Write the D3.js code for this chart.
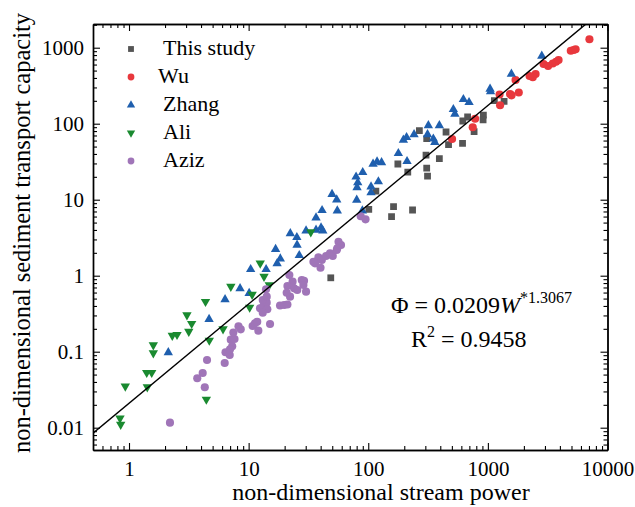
<!DOCTYPE html>
<html>
<head>
<meta charset="utf-8">
<script src="https://cdn.jsdelivr.net/npm/d3@7"></script>
<style>
  body { margin: 0; background: #fff; }
  svg text { font-family: "Liberation Serif", "Times New Roman", serif; fill: #000; }
</style>
</head>
<body>
<div id="chart"></div>
<script>
// Scatter of transport capacity vs stream power, log-log, with power-law fit

// ---- data (W = stream power, Phi = transport capacity) ----
const thisStudyW   = [1133, 1366, 917, 912, 767, 677, 617, 447, 267.5, 308, 469, 614, 304, 393, 176.8, 308, 313, 214, 115.8, 162.7, 234.6, 156.6, 101, 48.6];
const thisStudyPhi = [200.7, 197, 130, 112, 78.5, 122.5, 108.5, 77.8, 80.9, 63.5, 53.2, 55.2, 38.5, 34.6, 29.5, 26.1, 20.4, 23.0, 13.0, 8.09, 7.32, 5.97, 7.48, 0.938];

const wuW   = [7063, 4933, 5208, 5412, 2922, 3488, 3717, 3900, 2505, 2374, 2232, 1704, 1533, 1813, 1578, 1252, 1265, 782, 747, 502, 3187];
const wuPhi = [1290, 913, 933, 953, 610, 620, 654, 689, 451, 408, 424, 376, 246, 257, 236, 242, 175, 116, 89.7, 63, 574];

const zhangW   = [2823, 1572, 1043, 1053, 624, 696, 514.6, 530, 318, 393, 241.5, 209, 196.6, 313, 350, 360, 178.5, 211, 109.7, 118.5, 129.2, 89.9, 79.1, 81.7, 80.6, 121.5, 105.5, 105.5, 80.1, 49.8, 54.5, 55.1, 89.3, 41.1, 36.6, 22.3, 25.3, 30.2, 36.6, 40.3, 41.7, 25.4, 26.5, 16.8, 18.4, 17.3, 10.4, 14.0, 8.48, 10.1, 6.35, 4.67, 2.13];
const zhangPhi = [778, 451, 286, 265, 209.4, 191, 154.7, 134.2, 94.7, 94.7, 72.1, 66.2, 61, 72.1, 63.3, 57.1, 40.8, 32.0, 29.5, 31.6, 30.9, 22.9, 20.0, 16.8, 14.5, 17.3, 14.8, 12.4, 9.9, 11.8, 10.0, 7.17, 7.17, 7.25, 5.80, 3.59, 3.20, 3.91, 3.99, 4.28, 3.91, 2.54, 1.85, 2.23, 1.67, 1.45, 1.21, 1.21, 0.679, 0.587, 0.486, 0.267, 0.0976];

const aliW   = [33.1, 12.5, 13.45, 14.87, 7.10, 10.7, 10.2, 4.36, 3.05, 3.34, 3.16, 2.30, 2.52, 1.597, 1.597, 1.406, 1.548, 0.931, 1.422, 4.69, 6.11, 4.43, 0.841, 0.852];
const aliPhi = [3.76, 1.456, 0.976, 0.754, 0.721, 0.566, 0.382, 0.455, 0.304, 0.2335, 0.1845, 0.163, 0.1675, 0.1225, 0.0962, 0.053, 0.053, 0.0351, 0.0343, 0.141, 0.199, 0.0236, 0.0133, 0.0110];

const azizW   = [2.20, 4.49, 4.13, 3.72, 4.30, 6.31, 6.41, 6.95, 7.09, 7.62, 7.29, 6.99, 7.45, 8.23, 8.59, 10.8, 11.3, 11.8, 12.05, 12.45, 13.27, 14.17, 14.33, 15.1, 18.3, 19.8, 21.1, 13.12, 13.98, 14.17, 13.12, 21.9, 23.3, 21.1, 23.97, 27.8, 29.05, 25.5, 22.2, 30.2, 28.7, 38.3, 40.9, 44.4, 47.9, 50.5, 54.5, 35.9, 39.9, 34.8, 56.4, 59.2, 55.1, 86.5, 94.9, 20.8];
const azizPhi = [0.01164, 0.0778, 0.0525, 0.0447, 0.034, 0.071, 0.0985, 0.0905, 0.1439, 0.147, 0.1178, 0.1076, 0.179, 0.216, 0.197, 0.218, 0.2366, 0.248, 0.189, 0.3724, 0.399, 0.4416, 0.3614, 0.2314, 0.4055, 0.4117, 0.418, 0.479, 0.662, 0.530, 0.326, 1.02, 0.834, 0.732, 0.682, 0.878, 0.859, 0.648, 0.530, 0.616, 0.755, 1.746, 1.61, 1.816, 1.97, 1.816, 2.18, 1.455, 1.274, 1.528, 2.80, 2.535, 2.294, 6.05, 5.52, 0.597];

const seriesNames = ['This study', 'Wu', 'Zhang', 'Ali', 'Aziz'];

// fit: Phi = a * W^b
const fitA = 0.0209;
const fitB = 1.3067;

const xTicks = [1, 10, 100, 1000, 10000];
const xTickLabels = ['1', '10', '100', '1000', '10000'];
const yTicks = [0.01, 0.1, 1, 10, 100, 1000];
const yTickLabels = ['0.01', '0.1', '1', '10', '100', '1000'];

// ---- layout ----
const W = 635, H = 507;
const margin = { top: 24, right: 27.5, bottom: 57, left: 93 };
const width = W - margin.left - margin.right;
const height = H - margin.top - margin.bottom;

const svg = d3.select('#chart').append('svg')
    .attr('width', W)
    .attr('height', H);

const g = svg.append('g')
    .attr('transform', `translate(${margin.left},${margin.top})`);

const xScale = d3.scaleLog().domain([0.5, 10000]).range([0, width]);
const yScale = d3.scaleLog().domain([0.005088, 2050.5]).range([height, 0]);

// minor ticks 2..9 of every decade inside the domain
function minorTicks(scale) {
    const [lo, hi] = scale.domain();
    const out = [];
    for (let e = -3; e <= 4; e++) {
        for (let m = 2; m <= 9; m++) {
            const v = m * Math.pow(10, e);
            if (v > lo * 1.001 && v < hi * 0.999) out.push(v);
        }
    }
    return out;
}
const xMinor = minorTicks(xScale);
const yMinor = minorTicks(yScale);

// styles per series
const styles = {
    'This study': { color: '#555555', shape: d3.symbolSquare, size: 46, rot: 0 },
    'Wu':         { color: '#e8383d', shape: d3.symbolCircle, size: 52, rot: 0 },
    'Zhang':      { color: '#1f5fae', shape: d3.symbolTriangle, size: 38, rot: 0 },
    'Ali':        { color: '#1a8a30', shape: d3.symbolTriangle, size: 38, rot: 180 },
    'Aziz':       { color: '#a075b8', shape: d3.symbolCircle, size: 52, rot: 0 }
};

const seriesData = [
    { name: 'This study', w: thisStudyW, phi: thisStudyPhi },
    { name: 'Wu', w: wuW, phi: wuPhi },
    { name: 'Zhang', w: zhangW, phi: zhangPhi },
    { name: 'Ali', w: aliW, phi: aliPhi },
    { name: 'Aziz', w: azizW, phi: azizPhi }
];

// clip
svg.append('defs').append('clipPath').attr('id', 'plot-clip')
    .append('rect').attr('width', width).attr('height', height);

// points
const pts = g.append('g').attr('clip-path', 'url(#plot-clip)');
seriesData.forEach(s => {
    const st = styles[s.name];
    const sym = d3.symbol().type(st.shape).size(st.size);
    pts.append('g').attr('class', 'series')
        .selectAll('path')
        .data(s.w.map((w, i) => ({ w: w, phi: s.phi[i] })))
        .join('path')
        .attr('d', sym)
        .attr('transform', d => `translate(${xScale(d.w)},${yScale(d.phi)}) rotate(${st.rot})`)
        .attr('fill', st.color);
});

// fit line
const fitLine = d3.line()
    .x(d => xScale(d))
    .y(d => yScale(fitA * Math.pow(d, fitB)));
g.append('path')
    .attr('clip-path', 'url(#plot-clip)')
    .datum(xScale.domain())
    .attr('d', fitLine)
    .attr('fill', 'none')
    .attr('stroke', '#000')
    .attr('stroke-width', 1.4);

// axes (ticks point inward on all four sides)
function styleAxis(sel) {
    sel.select('.domain').attr('stroke', '#000').attr('stroke-width', 1.4);
    sel.selectAll('.tick line').attr('stroke', '#000').attr('stroke-width', 1.1);
    sel.selectAll('.tick text')
        .style('font-size', '21px')
        .style('font-family', '"Liberation Serif", serif');
}

g.append('g').attr('transform', `translate(0,${height})`)
    .call(d3.axisBottom(xScale).tickValues(xTicks).tickSizeInner(-7).tickSizeOuter(0)
        .tickPadding(11).tickFormat((d, i) => xTickLabels[i]))
    .call(styleAxis);
g.append('g').attr('transform', `translate(0,${height})`)
    .call(d3.axisBottom(xScale).tickValues(xMinor).tickSizeInner(-4).tickSizeOuter(0).tickFormat(''))
    .call(styleAxis);

g.append('g')
    .call(d3.axisTop(xScale).tickValues(xTicks).tickSizeInner(-7).tickSizeOuter(0).tickFormat(''))
    .call(styleAxis);
g.append('g')
    .call(d3.axisTop(xScale).tickValues(xMinor).tickSizeInner(-4).tickSizeOuter(0).tickFormat(''))
    .call(styleAxis);

g.append('g')
    .call(d3.axisLeft(yScale).tickValues(yTicks).tickSizeInner(-7).tickSizeOuter(0)
        .tickPadding(9).tickFormat((d, i) => yTickLabels[i]))
    .call(styleAxis);
g.append('g')
    .call(d3.axisLeft(yScale).tickValues(yMinor).tickSizeInner(-4).tickSizeOuter(0).tickFormat(''))
    .call(styleAxis);

g.append('g').attr('transform', `translate(${width},0)`)
    .call(d3.axisRight(yScale).tickValues(yTicks).tickSizeInner(-7).tickSizeOuter(0).tickFormat(''))
    .call(styleAxis);
g.append('g').attr('transform', `translate(${width},0)`)
    .call(d3.axisRight(yScale).tickValues(yMinor).tickSizeInner(-4).tickSizeOuter(0).tickFormat(''))
    .call(styleAxis);

// axis titles
svg.append('text')
    .attr('x', 381)
    .attr('y', 500)
    .attr('text-anchor', 'middle')
    .style('font-size', '24px')
    .text('non-dimensional stream power');

svg.append('text')
    .attr('transform', 'translate(30,233) rotate(-90)')
    .attr('text-anchor', 'middle')
    .style('font-size', '24.5px')
    .text('non-dimensional sediment transport capacity');

// legend
const legend = svg.append('g').attr('transform', 'translate(131,49)');
const legendSizes = { 'This study': 34, 'Wu': 36, 'Zhang': 30, 'Ali': 30, 'Aziz': 36 };
seriesNames.forEach((name, i) => {
    const st = styles[name];
    const item = legend.append('g').attr('transform', `translate(0,${i * 28})`);
    item.append('path')
        .attr('d', d3.symbol().type(st.shape).size(legendSizes[name]))
        .attr('transform', `rotate(${st.rot})`)
        .attr('fill', st.color);
    item.append('text')
        .attr('x', name === 'Wu' ? 27 : 32)
        .attr('y', 6)
        .style('font-size', '22px')
        .text(name);
});

// fit equation
const eq = svg.append('text')
    .attr('x', 391)
    .attr('y', 313)
    .style('font-size', '24px');
eq.append('tspan').text('\u03A6 = 0.0209');
eq.append('tspan').style('font-style', 'italic').text('W');
eq.append('tspan').attr('dy', -10).style('font-size', '16px').text('*1.3067');

const r2 = svg.append('text')
    .attr('x', 411)
    .attr('y', 347)
    .style('font-size', '24px');
r2.append('tspan').text('R');
r2.append('tspan').attr('dy', -10).style('font-size', '16px').text('2');
r2.append('tspan').attr('dy', 10).text(' = 0.9458');
</script>
</body>
</html>
